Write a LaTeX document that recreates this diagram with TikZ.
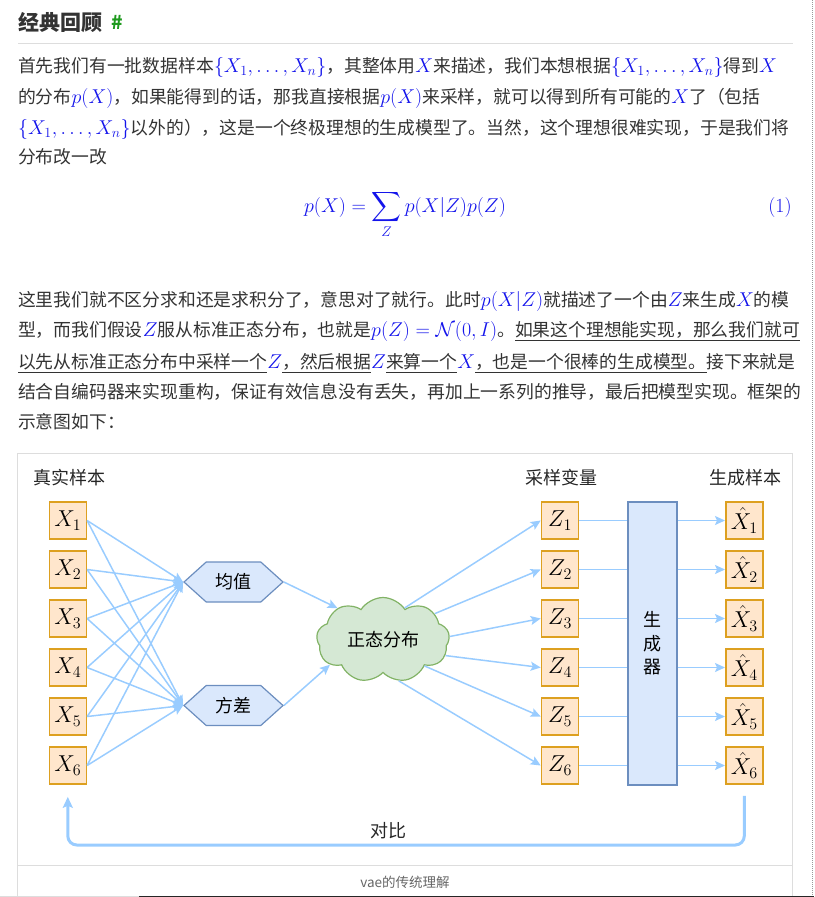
\RequirePackage{fix-cm}
\documentclass[tikz,border=0pt]{standalone}
\usepackage{fontspec}
\usepackage{amsmath}
\usetikzlibrary{shapes.symbols,arrows.meta}
\newfontfamily\cjk{Noto Sans CJK SC}
\definecolor{txt}{HTML}{333333}
\definecolor{mblue}{RGB}{20,20,235}
\definecolor{ln}{HTML}{99CCFF}
\definecolor{boxfill}{HTML}{FFE6CC}
\definecolor{boxdraw}{HTML}{DDA020}
\definecolor{bluefill}{HTML}{DAE8FC}
\definecolor{bluedraw}{HTML}{6C8EBF}
\definecolor{greenfill}{HTML}{D5E8D4}
\definecolor{greendraw}{HTML}{82B366}
\definecolor{rulegray}{HTML}{DDDDDD}
\definecolor{hashgreen}{HTML}{1E9A1E}
\newcommand{\mth}[1]{{\color{mblue}\fontsize{20}{24}\selectfont$#1$}}
\begin{document}
\begin{tikzpicture}[x=1pt,y=-1pt]
				\tikzstyle{para}=[anchor=base west,inner sep=0pt,text=txt,font=\cjk\fontsize{17.8}{20}\selectfont]
				\tikzstyle{sample}=[rectangle,draw=boxdraw,fill=boxfill,line width=1.6pt,minimum width=37pt,minimum height=37pt,inner sep=0pt,font=\fontsize{23}{23}\selectfont]
				\tikzstyle{hexa}=[signal,signal to=east and west,signal pointer angle=84,draw=bluedraw,fill=bluefill,line width=1.2pt,minimum width=99pt,minimum height=40pt,inner sep=0pt,font=\cjk\fontsize{18}{18}\selectfont]
				\tikzstyle{heading}=[inner sep=0pt,text=black!85,font=\cjk\fontsize{18}{18}\selectfont]
				\tikzstyle{link}=[draw=ln,line width=1.5pt,-{Stealth[length=10pt,width=9pt,inset=2pt]}]
				\tikzstyle{plain}=[draw=ln,line width=1.5pt]
				\useasboundingbox (0,0) rectangle (814,897);

				\node[anchor=base west,inner sep=0pt,text=txt,font=\cjk\bfseries\fontsize{21}{21}\selectfont](title) at (18,30){经典回顾};
				\node[anchor=base west,inner sep=0pt,text=hashgreen,font=\cjk\bfseries\fontsize{19}{19}\selectfont](hash) at (111,29){\#};
				\draw[rulegray,line width=1pt] (18,43) -- (793,43);

				\node[para](p1) at (18,72){首先我们有一批数据样本\mth{\{X_1,\ldots,X_n\}}，其整体用\mth{X}来描述，我们本想根据\mth{\{X_1,\ldots,X_n\}}得到\mth{X}};
				\node[para](p2) at (18,103){的分布\mth{p(X)}，如果能得到的话，那我直接根据\mth{p(X)}来采样，就可以得到所有可能的\mth{X}了（包括};
				\node[para](p3) at (18,134){\mth{\{X_1,\ldots,X_n\}}以外的），这是一个终极理想的生成模型了。当然，这个理想很难实现，于是我们将};
				\node[para](p4) at (18,163){分布改一改};
				\node[anchor=base,inner sep=0pt,text=mblue,font=\fontsize{20}{24}\selectfont](eq) at (405,212){$\displaystyle p(X)=\sum_Z p(X|Z)p(Z)$};
				\node[anchor=base,inner sep=0pt,text=mblue,font=\fontsize{20}{24}\selectfont](eqno) at (780,212){(1)};

				\node[para](q1) at (18,306){这里我们就不区分求和还是求积分了，意思对了就行。此时\mth{p(X|Z)}就描述了一个由\mth{Z}来生成\mth{X}的模};
				\node[para](q2) at (18,336){型，而我们假设\mth{Z}服从标准正态分布，也就是\mth{p(Z)=\mathcal{N}(0,I)}。\underline{如果这个理想能实现，那么我们就可}};
				\node[para](q3) at (18,368){\underline{以先从标准正态分布中采样一个}\mth{Z}\underline{，然后根据}\mth{Z}\underline{来算一个}\mth{X}\underline{，也是一个很棒的生成模型。}接下来就是};
				\node[para](q4) at (18,398){结合自编码器来实现重构，保证有效信息没有丢失，再加上一系列的推导，最后把模型实现。框架的};
				\node[para](q5) at (18,428){示意图如下：};

				\draw[rulegray,line width=1pt] (17,899) -- (17,453) -- (792,453) -- (792,899);
				\draw[rulegray,line width=1pt] (17,865) -- (792,865);
				\node[inner sep=0pt,text=black!60,font=\cjk\fontsize{13.5}{13.5}\selectfont](caption) at (405,882){vae的传统理解};

				\node[heading](h1) at (69,478){真实样本};
				\node[heading](h2) at (561,478){采样变量};
				\node[heading](h3) at (745,478){生成样本};

				\node[sample](x1) at (67.8,520.5){$X_1$};
				\node[sample](x2) at (67.8,569.5){$X_2$};
				\node[sample](x3) at (67.8,618.5){$X_3$};
				\node[sample](x4) at (67.8,667.5){$X_4$};
				\node[sample](x5) at (67.8,716.5){$X_5$};
				\node[sample](x6) at (67.8,765.5){$X_6$};

				\node[hexa](mean) at (233.5,582){均值};
				\node[hexa](var) at (233.5,705.5){方差};
				\node[cloud,cloud puffs=9,cloud puff arc=115,cloud ignores aspect,draw=greendraw,fill=greenfill,line width=1.2pt,minimum width=133pt,minimum height=85pt,inner sep=0pt,font=\cjk\fontsize{18}{18}\selectfont](cloud) at (383,640){正态分布};

				\node[sample](z1) at (560,520.5){$Z_1$};
				\node[sample](z2) at (560,569.5){$Z_2$};
				\node[sample](z3) at (560,618.5){$Z_3$};
				\node[sample](z4) at (560,667.5){$Z_4$};
				\node[sample](z5) at (560,716.5){$Z_5$};
				\node[sample](z6) at (560,765.5){$Z_6$};

				\node[rectangle,draw=bluedraw,fill=bluefill,line width=1.2pt,minimum width=49pt,minimum height=283pt,inner sep=0pt,align=center,font=\cjk\fontsize{18}{23.5}\selectfont](gen) at (652.5,643.5){生\\成\\器};

				\node[sample](xh1) at (744.3,520.5){$\hat{X}_1$};
				\node[sample](xh2) at (744.3,569.5){$\hat{X}_2$};
				\node[sample](xh3) at (744.3,618.5){$\hat{X}_3$};
				\node[sample](xh4) at (744.3,667.5){$\hat{X}_4$};
				\node[sample](xh5) at (744.3,716.5){$\hat{X}_5$};
				\node[sample](xh6) at (744.3,765.5){$\hat{X}_6$};

				\path[-]
					(x1.east) edge[link] (mean.west)
					(x2.east) edge[link] (mean.west)
					(x3.east) edge[link] (mean.west)
					(x4.east) edge[link] (mean.west)
					(x5.east) edge[link] (mean.west)
					(x6.east) edge[link] (mean.west)
					(x1.east) edge[link] (var.west)
					(x2.east) edge[link] (var.west)
					(x3.east) edge[link] (var.west)
					(x4.east) edge[link] (var.west)
					(x5.east) edge[link] (var.west)
					(x6.east) edge[link] (var.west)
					(mean.east) edge[link] (cloud.145)
					(var.east) edge[link] (cloud.205)
					(cloud.56) edge[link] (z1.west)
					(cloud.27) edge[link] (z2.west)
					(cloud.3) edge[link] (z3.west)
					(cloud.346) edge[link] (z4.west)
					(cloud.328) edge[link] (z5.west)
					(cloud.291) edge[link] (z6.west)
					(z1) edge[plain] (z1 -| gen.west)
					(z2) edge[plain] (z2 -| gen.west)
					(z3) edge[plain] (z3 -| gen.west)
					(z4) edge[plain] (z4 -| gen.west)
					(z5) edge[plain] (z5 -| gen.west)
					(z6) edge[plain] (z6 -| gen.west)
					(xh1 -| gen.east) edge[link] (xh1)
					(xh2 -| gen.east) edge[link] (xh2)
					(xh3 -| gen.east) edge[link] (xh3)
					(xh4 -| gen.east) edge[link] (xh4)
					(xh5 -| gen.east) edge[link] (xh5)
					(xh6 -| gen.east) edge[link] (xh6);

				\coordinate (bottom) at (388,845);
				\draw[draw=ln,line width=3pt,rounded corners=9pt,shorten <=11pt,shorten >=12pt,-{Stealth[length=11pt,width=10pt,inset=2pt]}] (xh6.south) |- (bottom) -| (x6.south);
				\node[heading](cmp) at (388,831){对比};

				\draw[black!40,densely dotted,line width=1pt] (812.5,0) -- (812.5,897);
				\draw[rulegray,line width=2pt] (0,896.5) -- (139,896.5);
				\draw[black!85,line width=2pt] (139,896.5) -- (814,896.5);
			\end{tikzpicture}
\end{document}
